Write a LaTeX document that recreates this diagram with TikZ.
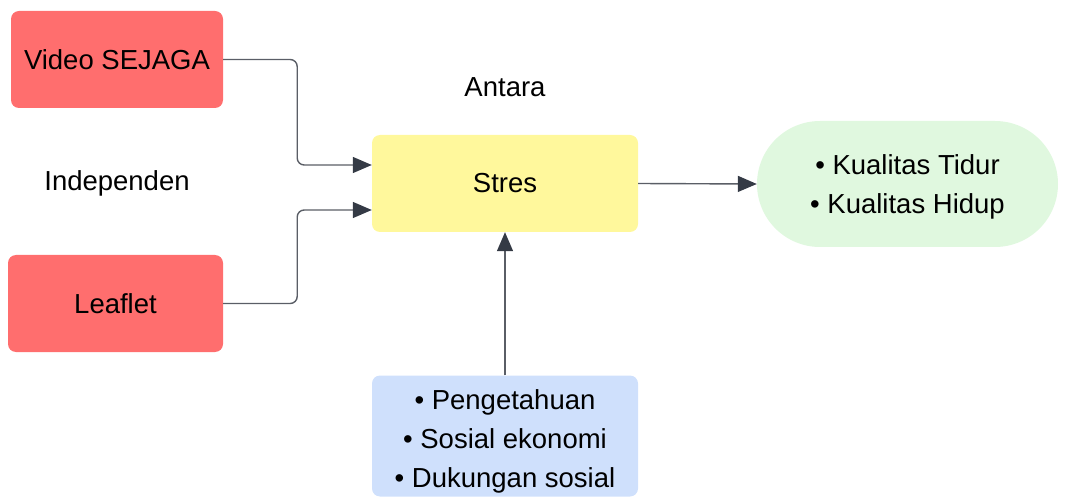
\documentclass[tikz,border=0pt]{standalone}
\usepackage{fontspec}
\setmainfont{Liberation Sans}
\usetikzlibrary{arrows.meta}
\definecolor{redbox}{HTML}{FF6E6E}
\definecolor{yellowbox}{HTML}{FFF89C}
\definecolor{greenbox}{HTML}{E0F8DF}
\definecolor{bluebox}{HTML}{CFE0FC}
\definecolor{linecol}{HTML}{5A5E66}
\definecolor{headcol}{HTML}{343A45}
\tikzset{
  box/.style={rounded corners=8pt, inner sep=0pt, align=center, font=\fontsize{27.5}{39}\selectfont, text=black},
  conn/.style={draw=linecol, line width=1.4pt, rounded corners=7pt,
    -{Triangle[length=19pt,width=16pt,fill=headcol,color=headcol]}},
  lbl/.style={font=\fontsize{27.5}{39}\selectfont, text=black, align=center, inner sep=0pt}
}
\begin{document}
\begin{tikzpicture}[x=1pt,y=-1pt]
\useasboundingbox (0,0) rectangle (1066,497);
\node[box, fill=redbox, minimum width=212pt, minimum height=97pt] (video) at (117,59.5) {Video SEJAGA};
\node[box, fill=redbox, minimum width=215pt, minimum height=97pt] (leaflet) at (115.5,303.5) {Leaflet};
\node[box, fill=yellowbox, minimum width=266pt, minimum height=97pt] (stres) at (505,183.5) {Stres};
\node[box, fill=greenbox, minimum width=301pt, minimum height=126pt, rounded corners=63pt] (out) at (907.5,184) {};
\node[lbl] (outtext) at (907.5,187) {\textbullet\ Kualitas Tidur\\\textbullet\ Kualitas Hidup};
\node[box, fill=bluebox, minimum width=266pt, minimum height=121pt] (conf) at (505,436) {};
\node[lbl] (conftext) at (505,441) {\textbullet\ Pengetahuan\\\textbullet\ Sosial ekonomi\\\textbullet\ Dukungan sosial};
\node[lbl] (antara) at (505,87) {Antara};
\node[lbl] (indep) at (117,183) {Independen};
\draw[conn] (video.east) -- ++(74,0) |- ([yshift=18.5pt]stres.west);
\draw[conn] (leaflet.east) -- ++(74,0) |- ([yshift=-26.5pt]stres.west);
\draw[conn] (stres.east) -- (out.west);
\draw[conn] (conf.north) -- (stres.south);
\end{tikzpicture}
\end{document}
